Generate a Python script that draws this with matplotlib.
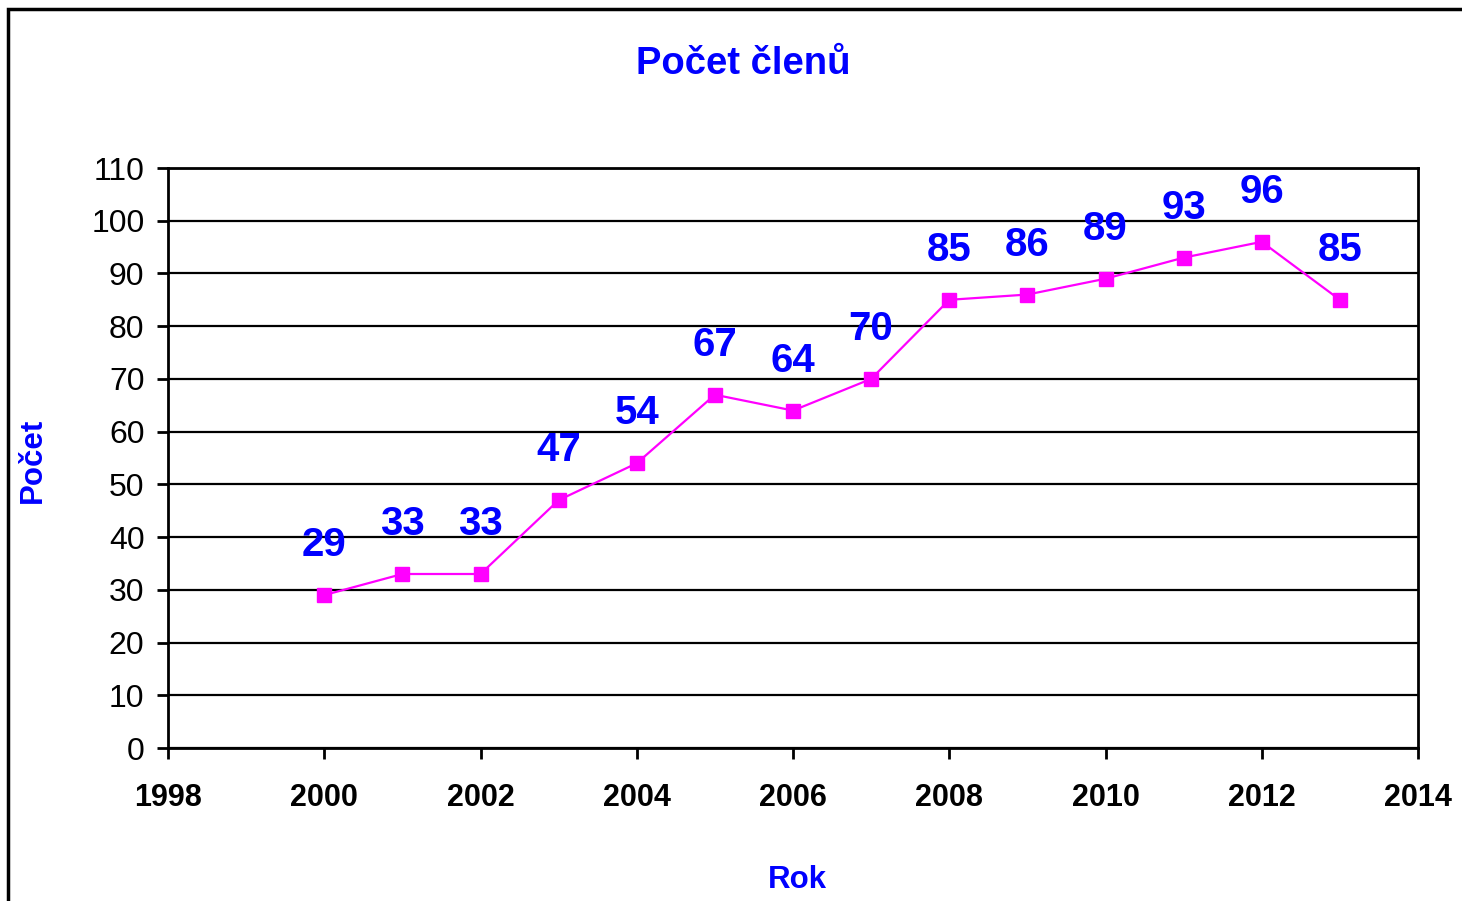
import matplotlib.pyplot as plt
from matplotlib.patches import Rectangle

plt.rcParams['font.family'] = ['Liberation Sans', 'DejaVu Sans']

# data
roky = [2000, 2001, 2002, 2003, 2004, 2005, 2006, 2007, 2008, 2009, 2010, 2011, 2012, 2013]
pocet = [29, 33, 33, 47, 54, 67, 64, 70, 85, 86, 89, 93, 96, 85]

modra = '#0000FF'
fialova = '#FF00FF'

fig = plt.figure(figsize=(14.62, 9.01), dpi=100)
ax = fig.add_axes([168 / 1462, 1 - 748 / 901, 1250 / 1462, 580 / 901])

ax.plot(roky, pocet, color=fialova, lw=1.6, marker='s', ms=10.5, mec=fialova, mfc=fialova, zorder=3)
for r, p in zip(roky, pocet):
    ax.annotate(str(p), (r, p), xytext=(0, 36), textcoords='offset points',
                ha='center', va='center', fontsize=29, fontweight='bold', color=modra)

ax.set_xlim(1998, 2014)
ax.set_ylim(0, 110)
ax.set_xticks(range(1998, 2015, 2))
ax.set_yticks(range(0, 111, 10))
ax.yaxis.grid(True, color='black', lw=1.6)
ax.set_axisbelow(True)
for s in ax.spines.values():
    s.set_linewidth(2)
ax.tick_params(axis='both', direction='out', length=8, width=2, colors='black')
ax.tick_params(axis='y', labelsize=23, pad=9)
ax.tick_params(axis='x', labelsize=22, pad=17.5)
for t in ax.get_xticklabels():
    t.set_fontweight('bold')

fig.text(743 / 1462, 1 - 64 / 901, 'Počet členů', ha='center', va='center',
         fontsize=27.5, fontweight='bold', color=modra)
fig.text(33 / 1462, 1 - 460 / 901, 'Počet', ha='center', va='center', rotation=90,
         fontsize=22.5, fontweight='bold', color=modra)
fig.text(797 / 1462, 1 - 880 / 901, 'Rok', ha='center', va='center',
         fontsize=22.5, fontweight='bold', color=modra)

# ramecek kolem grafu
fig.patches.append(Rectangle((8 / 1462, -0.1), 1.2, 1 - 9 / 901 + 0.1, transform=fig.transFigure,
                             fill=False, ec='black', lw=2.5))

fig.savefig('out.png', dpi=100)
